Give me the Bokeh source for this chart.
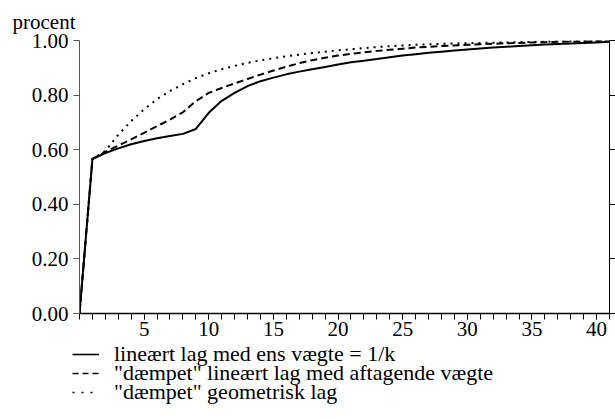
from bokeh.plotting import figure
from bokeh.layouts import column
from bokeh.models import (LinearAxis, FixedTicker, Legend, LegendItem, Range1d,
                          PrintfTickFormatter, Title)
from bokeh.embed import file_html
from bokeh.resources import INLINE

# ---- data ----
x_vals = list(range(0, 42))
solid = [0.000, 0.566, 0.588, 0.605, 0.620, 0.632, 0.642, 0.650, 0.658, 0.676,
         0.735, 0.779, 0.808, 0.833, 0.851, 0.864, 0.876, 0.886, 0.895, 0.903,
         0.912, 0.920, 0.926, 0.932, 0.939, 0.945, 0.950, 0.955, 0.959, 0.963,
         0.967, 0.971, 0.974, 0.977, 0.980, 0.983, 0.985, 0.987, 0.989, 0.991,
         0.993, 0.995]
dashed = [0.000, 0.566, 0.592, 0.615, 0.638, 0.662, 0.686, 0.710, 0.737, 0.778,
          0.808, 0.826, 0.843, 0.859, 0.875, 0.890, 0.904, 0.917, 0.928, 0.937,
          0.945, 0.951, 0.957, 0.962, 0.966, 0.970, 0.974, 0.977, 0.980, 0.982,
          0.984, 0.986, 0.988, 0.990, 0.991, 0.993, 0.994, 0.995, 0.996, 0.997,
          0.998, 0.999]
dotted = [0.000, 0.566, 0.595, 0.655, 0.705, 0.748, 0.785, 0.815, 0.840, 0.862,
          0.880, 0.895, 0.907, 0.918, 0.927, 0.935, 0.942, 0.948, 0.954, 0.959,
          0.964, 0.968, 0.972, 0.976, 0.979, 0.982, 0.984, 0.986, 0.988, 0.989,
          0.990, 0.991, 0.992, 0.993, 0.994, 0.995, 0.996, 0.997, 0.997, 0.998,
          0.998, 0.999]
series_labels = ['lineært lag med ens vægte = 1/k',
                 '"dæmpet" lineært lag med aftagende vægte',
                 '"dæmpet" geometrisk lag']
x_major = [5, 10, 15, 20, 25, 30, 35, 40]
x_minor = list(range(0, 42))
y_ticks = [0.0, 0.2, 0.4, 0.6, 0.8, 1.0]
y_title = "procent"

FONT = "Liberation Serif"
FS = "21px"
LFS = "22px"
series = [solid, dashed, dotted]
STYLES = [dict(line_color="black", line_width=2),
          dict(line_color="black", line_width=2, line_dash="7 4"),
          dict(line_color="black", line_width=2, line_dash="2 5")]
KEY_STYLES = [dict(line_color="black", line_width=1.6),
              dict(line_color="black", line_width=1.6, line_dash="6 4"),
              dict(line_color="black", line_width=1.4, line_dash="2 7")]

p = figure(width=615, height=345, x_range=Range1d(0, 41), y_range=Range1d(0, 1),
           output_backend="svg", toolbar_location=None,
           min_border_left=79, min_border_right=6, min_border_top=40,
           min_border_bottom=32, x_axis_location=None, y_axis_location=None)
p.outline_line_color = None
p.xgrid.visible = False
p.ygrid.visible = False
p.background_fill_color = "white"
p.border_fill_color = "white"

# left axis
ya = LinearAxis(ticker=FixedTicker(ticks=y_ticks),
                formatter=PrintfTickFormatter(format="%.2f"))
ya.axis_line_color = "#555555"
ya.major_tick_line_color = "#555555"
ya.major_tick_out = 6
ya.major_tick_in = 0
ya.minor_tick_line_color = None
ya.major_label_standoff = 5
ya.major_label_text_font = FONT
ya.major_label_text_font_size = FS
ya.major_label_text_color = "black"
p.add_layout(ya, "left")

# right axis (ticks only)
yr = LinearAxis(ticker=FixedTicker(ticks=y_ticks))
yr.axis_line_color = "black"
yr.major_tick_line_color = "black"
yr.major_tick_out = 6
yr.major_tick_in = 0
yr.minor_tick_line_color = None
yr.major_label_text_font_size = "0px"
yr.major_label_standoff = 0
p.add_layout(yr, "right")

# bottom axis
xa = LinearAxis(ticker=FixedTicker(ticks=x_major, minor_ticks=x_minor))
xa.axis_line_color = "black"
xa.axis_line_width = 1.5
xa.major_tick_line_color = "black"
xa.minor_tick_line_color = "black"
xa.major_tick_out = 6
xa.major_tick_in = 0
xa.minor_tick_out = 6
xa.minor_tick_in = 0
xa.major_label_standoff = 2
xa.major_label_text_font = FONT
xa.major_label_text_font_size = FS
xa.major_label_text_color = "black"
p.add_layout(xa, "below")

# title "procent"
t = Title(text=y_title, text_font=FONT, text_font_size=FS, text_font_style="normal",
          text_color="black", align="left", offset=-67, standoff=13)
p.add_layout(t, "above")

for ys, st in zip(series, STYLES):
    p.line(x_vals, ys, **st)

# legend strip below the chart (key renderers lie outside its visible range)
p2 = figure(width=615, height=74, x_range=Range1d(100, 101), y_range=Range1d(100, 101),
            output_backend="svg", toolbar_location=None, min_border=0,
            x_axis_location=None, y_axis_location=None)
p2.frame_align = False
p2.outline_line_color = None
p2.xgrid.visible = False
p2.ygrid.visible = False
p2.border_fill_color = "white"
p2.background_fill_color = "white"

ROW_H = 24
row_offsets = [52, 33, 14]
for lab, ys, st, vy in zip(series_labels, series, KEY_STYLES, row_offsets):
    k = p2.line(x_vals, ys, **st)
    lg = Legend(items=[LegendItem(label=lab, renderers=[k])], location=(72, vy))
    lg.label_text_font = FONT
    lg.label_text_font_size = LFS
    lg.label_text_color = "black"
    lg.label_height = ROW_H
    lg.glyph_height = ROW_H
    lg.glyph_width = 27
    lg.label_standoff = 15
    lg.spacing = 0
    lg.padding = 0
    lg.margin = 0
    lg.border_line_color = None
    lg.background_fill_alpha = 0
    p2.add_layout(lg, "center")

layout = column(p, p2, spacing=0)
open("out.html", "w").write(file_html(layout, INLINE))
